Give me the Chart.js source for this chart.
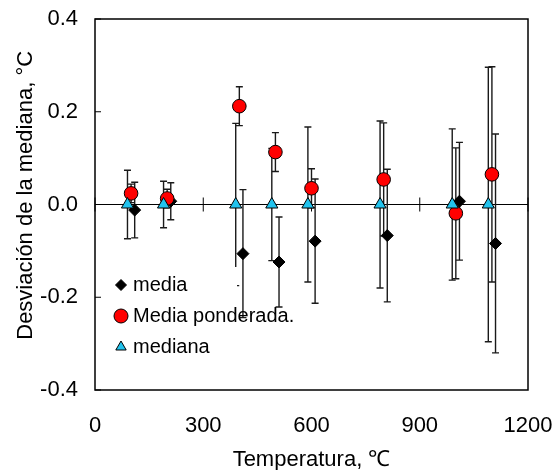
<!DOCTYPE html>
<html>
<head>
<meta charset="utf-8">
<script src="https://cdn.jsdelivr.net/npm/chart.js@4.4.1/dist/chart.umd.min.js"></script>
<style>
  html, body { margin: 0; padding: 0; background: #fff; }
  #wrap { width: 554px; height: 470px; }
</style>
</head>
<body>
<div id="wrap"><canvas id="chart"></canvas></div>
<script>
'use strict';

// temperaturas (x) de cada serie, ligeramente desplazadas como en el original
const xMediana   = [90, 190, 390, 490, 590, 790, 990, 1090];
const xPonderada = [100, 200, 400, 500, 600, 800, 1000, 1100];
const xMedia     = [110, 210, 410, 510, 610, 810, 1010, 1110];

// desviaciones respecto a la mediana
const yMedia     = [-0.012, 0.007, -0.106, -0.124, -0.079, -0.067, 0.007, -0.084];
const yPonderada = [0.024, 0.013, 0.212, 0.113, 0.035, 0.054, -0.019, 0.065];
const yMediana   = [0, 0, 0, 0, 0, 0, 0, 0];

// semiamplitud de las barras de error
const eMedia     = [0.060, 0.040, 0.138, 0.097, 0.134, 0.143, 0.127, 0.236];
const ePonderada = [0.020, 0.020, 0.042, 0.042, 0.042, 0.122, 0.141, 0.232];
const eMediana   = [0.074, 0.050, 0.175, 0.121, 0.167, 0.180, 0.163, 0.296];

const xTicks = [0, 300, 600, 900, 1200];
const yTicks = [-0.4, -0.2, 0.0, 0.2, 0.4];

const FONT = "'Liberation Sans', Arial, Helvetica, sans-serif";

function pts(xs, ys){
    var out = [];
    for( var i = 0 ; i < xs.length ; i++ ) out.push({ x: xs[i], y: ys[i] });
    return out;
}

const datasets = [
    { label: 'mediana', data: pts(xMediana, yMediana), err: eMediana, order: 0,
      pointStyle: 'triangle', pointRadius: 7, backgroundColor: '#22c3ee', borderColor: '#000', borderWidth: 1 },
    { label: 'Media ponderada.', data: pts(xPonderada, yPonderada), err: ePonderada, order: 1,
      pointStyle: 'circle', pointRadius: 6.8, backgroundColor: '#ff0000', borderColor: '#000', borderWidth: 1 },
    { label: 'media', data: pts(xMedia, yMedia), err: eMedia, order: 2,
      pointStyle: 'rectRot', pointRadius: 6, backgroundColor: '#000', borderColor: '#000', borderWidth: 1 },
];

// marco, linea del cero, marcas, barras de error y leyenda
const decor = {
    id: 'decor',
    beforeDatasetsDraw(chart){
        const ctx = chart.ctx, xs = chart.scales.x, ys = chart.scales.y;
        const y0 = ys.getPixelForValue(0);
        ctx.save();
        ctx.strokeStyle = '#000';
        ctx.lineWidth = 1;
        ctx.beginPath();
        ctx.moveTo(xs.left, y0); ctx.lineTo(xs.right, y0);
        for( const t of xTicks ){
            const px = xs.getPixelForValue(t);
            ctx.moveTo(px, y0 - 7); ctx.lineTo(px, y0 + 7);
        }
        for( const t of yTicks ){
            const py = ys.getPixelForValue(t);
            ctx.moveTo(xs.left, py); ctx.lineTo(xs.left + 6, py);
        }
        ctx.stroke();

        // barras de error
        ctx.strokeStyle = '#1a1a1a';
        ctx.lineWidth = 1.4;
        for( const ds of [datasets[2], datasets[1], datasets[0]] ){
            ds.data.forEach((p, i) => {
                const px = xs.getPixelForValue(p.x);
                const top = ys.getPixelForValue(p.y + ds.err[i]);
                const bot = ys.getPixelForValue(p.y - ds.err[i]);
                ctx.beginPath();
                ctx.moveTo(px, top); ctx.lineTo(px, bot);
                ctx.moveTo(px - 3.5, top); ctx.lineTo(px + 3.5, top);
                ctx.moveTo(px - 3.5, bot); ctx.lineTo(px + 3.5, bot);
                ctx.stroke();
            });
        }
        ctx.restore();
    },
    afterDatasetsDraw(chart){
        const ctx = chart.ctx, a = chart.chartArea;
        ctx.save();
        // marco
        ctx.strokeStyle = '#000';
        ctx.lineWidth = 1.5;
        ctx.strokeRect(a.left, a.top, a.right - a.left, a.bottom - a.top);

        // leyenda
        const lx = a.left + 26, ly = a.top + 266;
        ctx.fillStyle = '#fff';
        ctx.fillRect(a.left + 14, ly - 18, 128, 96);
        const items = [datasets[2], datasets[1], datasets[0]];
        const radii = [5.5, 7, 6];
        items.forEach((ds, i) => {
            const cy = ly + i * 31;
            ctx.fillStyle = ds.backgroundColor;
            ctx.strokeStyle = ds.borderColor;
            ctx.lineWidth = 1;
            Chart.helpers.drawPoint(ctx, { pointStyle: ds.pointStyle, radius: radii[i], borderWidth: 1 }, lx, cy);
            ctx.fillStyle = '#000';
            ctx.font = '20px ' + FONT;
            ctx.textBaseline = 'middle';
            ctx.textAlign = 'left';
            ctx.fillText(ds.label, lx + 12, cy);
        });
        ctx.restore();
    }
};

new Chart(document.getElementById('chart'), {
    type: 'scatter',
    data: { datasets: datasets },
    options: {
        responsive: true,
        maintainAspectRatio: false,
        animation: false,
        layout: { padding: { top: 19, right: 26, left: 0, bottom: 0 } },
        plugins: {
            legend: { display: false },
            tooltip: { enabled: false },
        },
        scales: {
            x: {
                type: 'linear', min: 0, max: 1200,
                afterFit: (s) => { s.height = 80; s.paddingLeft = 0; s.paddingRight = 0; },
                afterBuildTicks: (s) => { s.ticks = xTicks.map(v => ({ value: v })); },
                grid: { display: false, drawTicks: false },
                border: { display: false },
                ticks: { font: { size: 22, family: FONT }, color: '#000', padding: 23, maxRotation: 0,
                         callback: (v) => String(v) },
                title: { display: true, text: 'Temperatura, ℃', font: { size: 22, family: FONT }, color: '#000', padding: { top: 0, bottom: -3 } },
            },
            y: {
                type: 'linear', min: -0.4, max: 0.4,
                afterFit: (s) => { s.width = 95; s.paddingTop = 0; s.paddingBottom = 0; },
                afterBuildTicks: (s) => { s.ticks = yTicks.map(v => ({ value: v })); },
                grid: { display: false, drawTicks: false },
                border: { display: false },
                ticks: { font: { size: 22, family: FONT }, color: '#000', padding: 17,
                         callback: (v) => v.toFixed(1) },
                title: { display: true, text: '   Desviación de la mediana, °C', font: { size: 22, family: FONT }, color: '#000', padding: { top: 13, bottom: 0 } },
            },
        },
    },
    plugins: [decor],
});
</script>
</body>
</html>
